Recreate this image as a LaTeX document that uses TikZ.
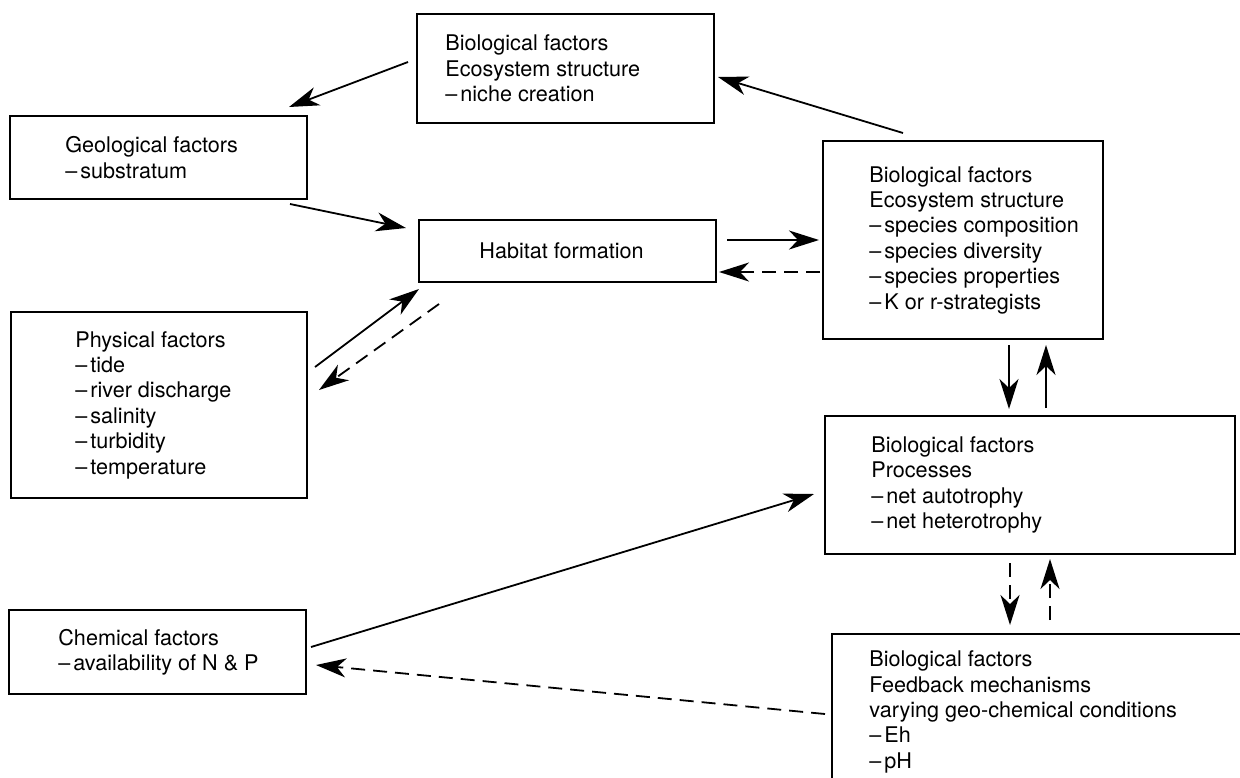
\documentclass[tikz,border=0pt]{standalone}
\usepackage{fontspec}
\setmainfont{TeX Gyre Heros}
\usetikzlibrary{arrows.meta,calc,positioning}
\newcommand{\itm}{\textendash\kern1.5pt}

\begin{document}
\begin{tikzpicture}[x=0.5pt,y=-0.5pt,
		box/.style={draw, line width=1pt, outer sep=0pt, inner sep=0pt},
		txt/.style={align=left, inner sep=0pt, font=\fontsize{10.8}{12.7}\selectfont},
		arr/.style={line width=0.9pt, -{Stealth[length=15pt,width=9.5pt,inset=4.5pt]}},
		dsh/.style={arr, dash pattern=on 7pt off 4pt}]
		\clip (0,0) rectangle (1240,777);

		\node[box, minimum width=148.5pt, minimum height=54.5pt] at (565.5,68.5)(nic){};
		\node[txt, right=14pt of nic.west](nic-t){Biological factors\\Ecosystem structure\\\itm niche creation};

		\node[box, minimum width=148.5pt, minimum height=41.5pt] at (158.5,157.5)(geo){};
		\node[txt, right=27.5pt of geo.west](geo-t){Geological factors\\\itm substratum};

		\node[box, minimum width=148.5pt, minimum height=31pt] at (567.5,251)(hab){};
		\node[txt, right=30pt of hab.west](hab-t){Habitat formation};

		\node[box, minimum width=148pt, minimum height=93pt] at (159,405)(phy){};
		\node[txt, right=32pt of phy.west](phy-t){Physical factors\\\itm tide\\\itm river discharge\\\itm salinity\\\itm turbidity\\\itm temperature};

		\node[box, minimum width=148.5pt, minimum height=42pt] at (157.5,652)(chm){};
		\node[txt, right=24.5pt of chm.west](chm-t){Chemical factors\\\itm availability of N \& P};

		\node[box, minimum width=140pt, minimum height=99pt] at (963,240)(spc){};
		\node[txt, right=23pt of spc.west](spc-t){Biological factors\\Ecosystem structure\\\itm species composition\\\itm species diversity\\\itm species properties\\\itm K or r-strategists};

		\node[box, minimum width=205pt, minimum height=69pt] at (1030,485)(prc){};
		\node[txt, right=23pt of prc.west](prc-t){Biological factors\\Processes\\\itm net autotrophy\\\itm net heterotrophy};

		\node[box, minimum width=214pt, minimum height=78pt] at (1046,712)(fbk){};
		\node[txt, right=18.5pt of fbk.west](fbk-t){Biological factors\\Feedback mechanisms\\varying geo-chemical conditions\\\itm Eh\\\itm pH};

		\draw[arr] ($(nic.west)+(-9,-6.5)$) -- ($(geo.north east)+(-18,-9)$);
		\draw[arr] ($(spc.north west)+(80,-8)$) -- ($(nic.east)+(4,8.5)$);
		\draw[arr] ($(geo.south east)+(-17,5)$) -- ($(hab.north west)+(-13,8)$);
		\draw[arr] ($(phy.north east)+(8,55)$) -- ($(hab.south west)+(0,7)$);
		\draw[dsh] ($(hab.south west)+(20,22)$) -- ($(phy.north east)+(12,78)$);
		\draw[arr] ($(hab.east)+(11,-11)$) -- ($(spc.west)+(-4,0)$);
		\draw[dsh] ($(spc.west)+(-3,32)$) -- ($(hab.east)+(3,21)$);
		\draw[arr] ($(spc.south)+(46,6)$) -- ($(prc.north)+(-21,-7)$);
		\draw[arr] ($(prc.north)+(16,-8)$) -- ($(spc.south)+(83,6)$);
		\draw[dsh] ($(prc.south)+(-20,9)$) -- ($(fbk.north)+(-36,-9)$);
		\draw[dsh] ($(fbk.north)+(4,-14)$) -- ($(prc.south)+(20,5)$);
		\draw[arr] ($(chm.east)+(5,-5)$) -- ($(prc.west)+(-11,9)$);
		\draw[dsh] ($(fbk.west)+(-7,2)$) -- ($(chm.east)+(10,13)$);
	\end{tikzpicture}
\end{document}
